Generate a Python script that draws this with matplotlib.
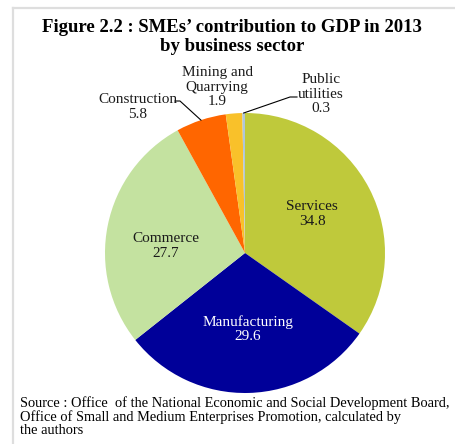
import matplotlib
matplotlib.use("Agg")
import matplotlib.pyplot as plt
import numpy as np
from matplotlib.lines import Line2D

# Sector shares of SME GDP, 2013 (%)
sectors = ["Services", "Manufacturing", "Commerce", "Construction",
           "Mining and\nQuarrying", "Public\nutilities"]
shares = [34.8, 29.6, 27.7, 5.8, 1.9, 0.3]
colors = ["#BFC93B", "#000099", "#C4E2A0", "#FF6600", "#F9C12A", "#AFC6DA"]

title = "Figure 2.2 : SMEs\u2019 contribution to GDP in 2013\nby business sector"
source = ("Source : Office  of the National Economic and Social Development Board,\n"
          "Office of Small and Medium Enterprises Promotion, calculated by\n"
          "the authors")

W, H = 455, 444
fig = plt.figure(figsize=(W / 100, H / 100), dpi=100)
fig.patch.set_facecolor("white")
plt.rcParams["font.family"] = ["Liberation Serif", "DejaVu Serif"]

# Light frame along the top and left edges
fig.add_artist(Line2D([13 / W, 13 / W], [0, 1 - 8 / H], transform=fig.transFigure,
                      color="#dedede", lw=1.6))
fig.add_artist(Line2D([13 / W, 1], [1 - 8 / H, 1 - 8 / H], transform=fig.transFigure,
                      color="#dedede", lw=1.6))

# Pie axes: centre (245, 253) px, radius 140 px
cx, cy, r = 245, 253, 140
ax = fig.add_axes([(cx - r) / W, (H - cy - r) / H, 2 * r / W, 2 * r / H])
wedges, _ = ax.pie(shares, colors=colors, startangle=90, counterclock=False,
                   radius=1.0, wedgeprops=dict(linewidth=0))
ax.set_xlim(-1, 1)
ax.set_ylim(-1, 1)
ax.axis("off")


def px(x, y):
    return (x - cx) / r, (cy - y) / r


# Label anchors (pixel positions)
label_pos = [(312, 214), (248, 329), (166, 246), (138, 107), (217, 87), (321, 94)]
text_colors = ["#1a1a1a", "white", "#1a1a1a", "#1a1a1a", "#1a1a1a", "#1a1a1a"]

for name, val, pos, tc in zip(sectors, shares, label_pos, text_colors):
    x, y = px(*pos)
    ax.text(x, y, f"{name}\n{val}", ha="center", va="center", fontsize=11,
            color=tc, linespacing=1.12, clip_on=False)

# Leader lines from outside labels to the wedge edges
def edge_point(w):
    mid = np.deg2rad((w.theta1 + w.theta2) / 2)
    return np.cos(mid), np.sin(mid)

ex, ey = edge_point(wedges[3])
ax.plot([px(175, 101)[0], px(180, 101)[0], ex], [px(175, 101)[1], px(180, 101)[1], ey],
        color="black", lw=0.8, clip_on=False)
ex, ey = edge_point(wedges[5])
ax.plot([ex, px(290, 97)[0], px(297, 97)[0]], [ey, px(290, 97)[1], px(297, 97)[1]],
        color="black", lw=0.8, clip_on=False)

fig.text(232 / W, 1 - 37 / H, title, ha="center", va="center", fontsize=13.5,
         fontweight="bold", linespacing=1.1)
fig.text(20 / W, 1 - 396 / H, source, ha="left", va="top", fontsize=10.4,
         linespacing=1.0)

fig.savefig("out.png", dpi=100, facecolor="white")
